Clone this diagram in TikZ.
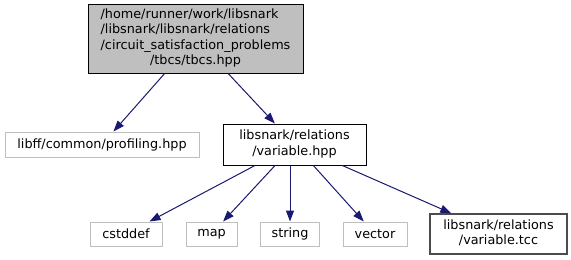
\documentclass[tikz,border=0pt]{standalone}
\usepackage{fontspec}
\setmainfont{DejaVu Sans}
\usetikzlibrary{arrows.meta}
\definecolor{edgeblue}{HTML}{191970}
\definecolor{grey75}{HTML}{BFBFBF}
\newcommand\lastrow[1]{\multicolumn{1}{@{}c@{}}{#1}}
\begin{document}
\begin{tikzpicture}[x=1pt,y=-1pt,
    font=\fontsize{12.8}{15.5}\selectfont,
    file/.style={draw=black,line width=1pt,fill=white,inner sep=0pt,text=black},
    root/.style={file,fill=grey75},
    ext/.style={file,draw=grey75},
    edge/.style={draw=edgeblue,line width=1pt,-{Triangle[length=11pt,width=8pt]}}]
\useasboundingbox (0,0) rectangle (571,260);
\node[root,minimum width=215,minimum height=69] (tbcs) at (195.5,38.5)
  {\begin{tabular}{@{}l@{}}/home/runner/work/libsnark\\/libsnark/libsnark/relations\\
   /circuit\_satisfaction\_problems\\\lastrow{/tbcs/tbcs.hpp}\end{tabular}};
\node[ext,minimum width=194,minimum height=25] (profiling) at (102,144.5) {libff/common/profiling.hpp};
\node[file,minimum width=143,minimum height=41] (varhpp) at (294.5,144.5)
  {\begin{tabular}{@{}l@{}}libsnark/relations\\\lastrow{/variable.hpp}\end{tabular}};
\node[ext,minimum width=72,minimum height=24] (cstddef) at (126,234) {cstddef};
\node[ext,minimum width=51,minimum height=24] (map) at (211.5,234) {map};
\node[ext,minimum width=59,minimum height=24] (string) at (290,234) {string};
\node[ext,minimum width=64,minimum height=24] (vector) at (375,234) {vector};
\node[file,draw=black!70,line width=1.4pt,minimum width=137,minimum height=40] (vartcc) at (498.5,234)
  {\begin{tabular}{@{}l@{}}libsnark/relations\\\lastrow{/variable.tcc}\end{tabular}};
% include edges
\draw[edge] (tbcs) -- (profiling);
\draw[edge] (tbcs) -- (varhpp);
\draw[edge] (varhpp) -- (cstddef);
\draw[edge] (varhpp) -- (map);
\draw[edge] (varhpp.south -| string.north) -- (string);
\draw[edge] (varhpp) -- (vector);
\draw[edge] (varhpp) -- (vartcc);
\end{tikzpicture}
\end{document}
